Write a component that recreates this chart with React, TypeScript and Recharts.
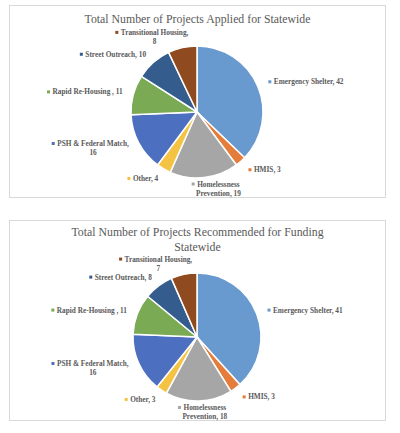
import React from 'react';
import { PieChart, Pie, Cell } from 'recharts';

const CATEGORIES = [
  'Emergency Shelter',
  'HMIS',
  'Homelessness Prevention',
  'Other',
  'PSH & Federal Match',
  'Rapid Re-Housing ',
  'Street Outreach',
  'Transitional Housing',
];
const APPLIED = [42, 3, 19, 4, 16, 11, 10, 8];
const RECOMMENDED = [41, 3, 18, 3, 16, 11, 8, 7];
const COLORS = ['#6899CF', '#E47C3A', '#A6A6A6', '#F5C344', '#4D6FBF', '#7AAA54', '#345C8D', '#8F4A1F'];

// labels that Excel wrapped onto two lines
const WRAP_BEFORE_VALUE = ['Transitional Housing', 'PSH & Federal Match'];
const WRAP_AFTER_FIRST_WORD = ['Homelessness Prevention'];

const RAD = Math.PI / 180;
const SERIF = '"Liberation Serif", "DejaVu Serif", serif';
const LABEL_SIZE = 7.3;
const LABEL_FONT = `bold ${LABEL_SIZE}px ${SERIF}`;
const TEXT_GRAY = '#595959';

let ctx: CanvasRenderingContext2D | null = null;
const textWidth = (t: string) => {
  if (!ctx) ctx = document.createElement('canvas').getContext('2d');
  ctx!.font = LABEL_FONT;
  return ctx!.measureText(t).width;
};

const labelLines = (name: string, value: number) => {
  if (WRAP_BEFORE_VALUE.includes(name)) return [`${name},`, `${value}`];
  if (WRAP_AFTER_FIRST_WORD.includes(name)) {
    const i = name.indexOf(' ');
    return [name.slice(0, i), `${name.slice(i + 1)}, ${value}`];
  }
  return [`${name}, ${value}`];
};

const renderLabel = (props: any) => {
  const { cx, cy, midAngle, outerRadius, name, value, fill } = props;
  const r = outerRadius + 11;
  const px = cx + r * Math.cos(-midAngle * RAD);
  const py = cy + r * Math.sin(-midAngle * RAD);
  const s = Math.cos(midAngle * RAD);
  const lines = labelLines(name, value);
  const widths = lines.map(textWidth);
  const tw = Math.max(...widths);
  const w = tw + 6;
  // push labels near the top/bottom sideways, away from the vertical axis
  const k = Math.max(-1, Math.min(1, s * 3.5));
  const left = px - (w * (1 - k)) / 2;
  const tx = left + 6 + tw / 2;
  const lh = 9;
  const top = py - (lines.length * lh) / 2;
  return (
    <g>
      <rect x={tx - widths[0] / 2 - 5.5} y={top + lh / 2 - 1.5} width={3} height={3} fill={fill} />
      {lines.map((l, i) => (
        <text
          key={i}
          x={tx}
          y={top + lh * i + lh / 2}
          textAnchor="middle"
          dominantBaseline="central"
          fill={TEXT_GRAY}
          style={{ font: LABEL_FONT }}
        >
          {l}
        </text>
      ))}
    </g>
  );
};

function ProjectPie({ title, values, top, height, cy, radius, titleTop }: any) {
  const data = CATEGORIES.map((name, i) => ({ name, value: values[i] }));
  return (
    <div
      style={{
        position: 'absolute',
        left: 9,
        top,
        width: 377,
        height,
        border: '1px solid #d9d9d9',
        boxSizing: 'border-box',
        background: '#fff',
      }}
    >
      <div
        style={{
          position: 'absolute',
          top: titleTop,
          left: 0,
          width: '100%',
          textAlign: 'center',
          fontFamily: SERIF,
          fontSize: 11.8,
          lineHeight: '15px',
          color: TEXT_GRAY,
        }}
      >
        {title.map((t: string) => (
          <div key={t}>{t}</div>
        ))}
      </div>
      <div style={{ position: 'absolute', left: -1, top: -1 }}>
        <PieChart width={377} height={height} margin={{ top: 0, right: 0, bottom: 0, left: 0 }}>
          <Pie
            data={data}
            dataKey="value"
            nameKey="name"
            cx={188}
            cy={cy}
            outerRadius={radius}
            startAngle={90}
            endAngle={-270}
            stroke="#fff"
            strokeWidth={1.5}
            label={renderLabel}
            labelLine={false}
            isAnimationActive={false}
          >
            {data.map((d, i) => (
              <Cell key={d.name} fill={COLORS[i]} />
            ))}
          </Pie>
        </PieChart>
      </div>
    </div>
  );
}

export default function App() {
  return (
    <div style={{ position: 'absolute', left: 0, top: 0, width: 400, height: 433, background: '#fff' }}>
      <ProjectPie
        title={['Total Number of Projects Applied for Statewide']}
        values={APPLIED}
        top={5}
        height={193}
        cy={107}
        radius={66}
        titleTop={6}
      />
      <ProjectPie
        title={['Total Number of Projects Recommended for Funding', 'Statewide']}
        values={RECOMMENDED}
        top={220}
        height={201}
        cy={117}
        radius={64}
        titleTop={4}
      />
    </div>
  );
}
